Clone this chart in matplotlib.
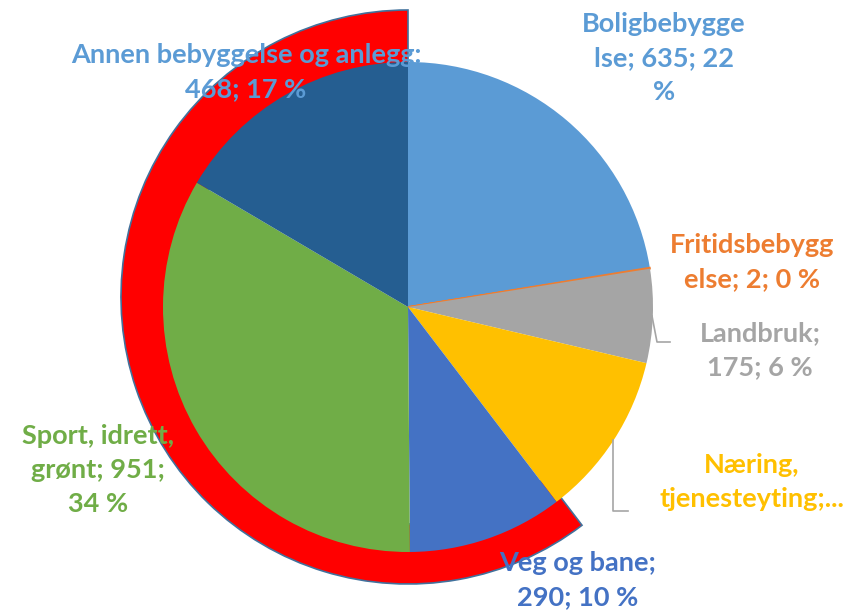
import matplotlib.pyplot as plt
from matplotlib.patches import Wedge

# data
categories = ["Boligbebyggelse", "Fritidsbebyggelse", "Landbruk",
              "Næring, tjenesteyting", "Veg og bane", "Sport, idrett, grønt",
              "Annen bebyggelse og anlegg"]
values = [635, 2, 175, 310, 290, 951, 468]
colors = ["#5B9BD5", "#ED7D31", "#A5A5A5", "#FFC000", "#4472C4", "#70AD47", "#255E91"]
label_colors = ["#5B9BD5", "#ED7D31", "#A5A5A5", "#FFC000", "#4472C4", "#70AD47", "#5B9BD5"]
label_texts = ["Boligbebygge\nlse; 635; 22\n%",
               "Fritidsbebygg\nelse; 2; 0 %",
               "Landbruk;\n175; 6 %",
               "Næring,\ntjenesteyting;...",
               "Veg og bane;\n290; 10 %",
               "Sport, idrett,\ngrønt; 951;\n34 %",
               "Annen bebyggelse og anlegg:\n468; 17 %"]
label_pos = [(664, 58), (752, 262), (760, 350), (752, 482),
             (578, 580), (98, 470), (246, 72)]

W, H = 861, 612
fig = plt.figure(figsize=(W / 100, H / 100), dpi=100)
ax = fig.add_axes([0, 0, 1, 1])

cx, cy, r = 408, H - 307, 245

# red highlight ring behind the pie (Veg, Sport, Annen)
total = sum(values)
start_frac = sum(values[:4]) / total
theta_end = 90 - start_frac * 360
ring = Wedge((408, H - 297), 287, 90, theta_end + 360, width=60,
             facecolor="#FF0000", edgecolor="#41719C", linewidth=1.2)
ax.add_patch(ring)

wedges, _ = ax.pie(values, colors=colors, startangle=90, counterclock=False,
                   center=(cx, cy), radius=r,
                   wedgeprops=dict(linewidth=0))
wedges[1].set_edgecolor(colors[1])
wedges[1].set_linewidth(1.2)

# leader lines
ax.plot([652, 657, 670], [H - 316, H - 342, H - 342], color="#A5A5A5", lw=1.2)
ax.plot([613, 613, 628], [H - 440, H - 511, H - 511], color="#A5A5A5", lw=1.2)

for txt, (x, y), c in zip(label_texts, label_pos, label_colors):
    ax.text(x, H - y, txt, ha="center", va="center", color=c,
            fontsize=19.5, fontweight="bold", family="Lato", linespacing=1.48)

ax.set_xlim(0, W)
ax.set_ylim(0, H)
ax.set_aspect("equal")
ax.axis("off")

fig.savefig("out.png", dpi=100)
